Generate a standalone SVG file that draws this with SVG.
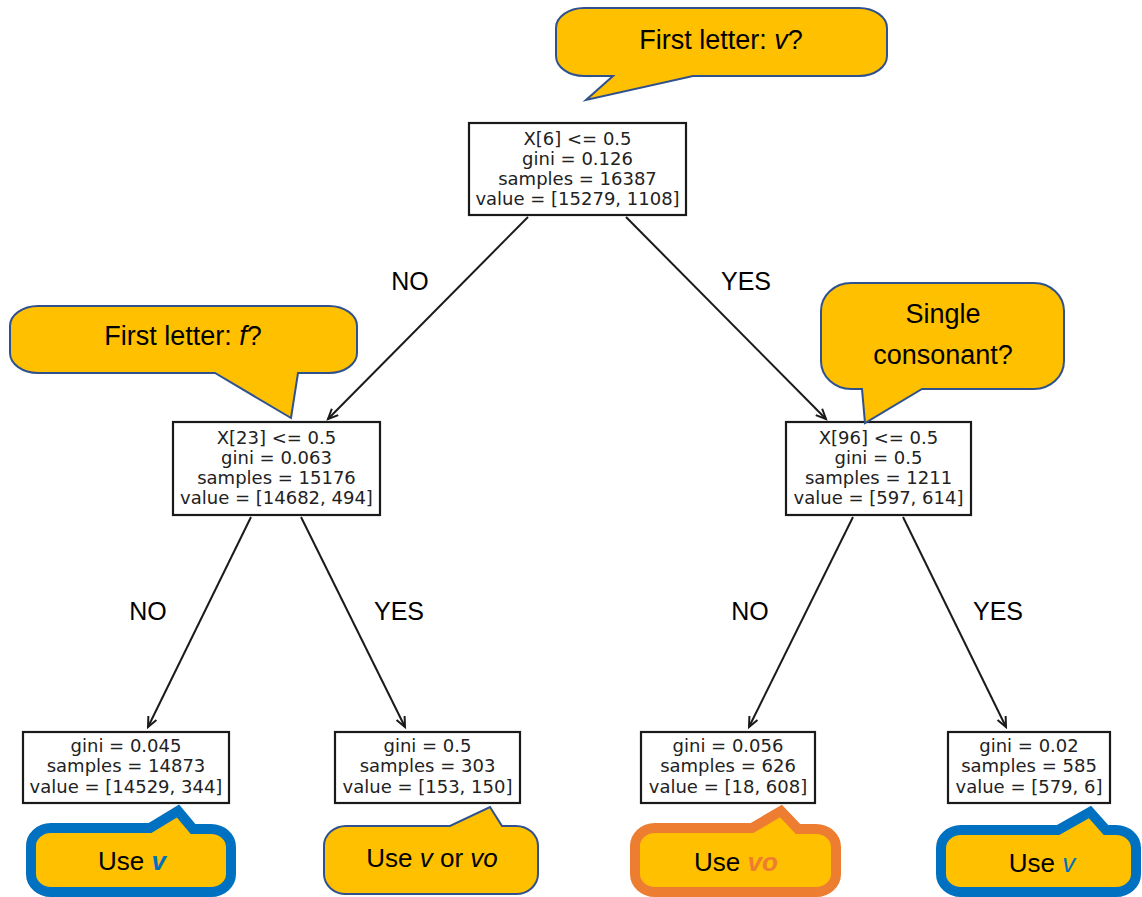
<svg xmlns="http://www.w3.org/2000/svg" width="1142" height="897" viewBox="0 0 1142 897">
<style>
.box{fill:#fff;stroke:#1a1a1a;stroke-width:2.2}
.nt{font-family:"DejaVu Sans",sans-serif;font-size:18px;fill:#222;text-anchor:middle}
.edge{stroke:#1a1a1a;stroke-width:2;fill:none}
.el{font-family:"Liberation Sans",Arial,sans-serif;font-size:25px;fill:#000;text-anchor:middle}
.co{fill:#FFC000;stroke:#2F528F;stroke-width:2;stroke-linejoin:miter}
.coB{fill:#FFC000;stroke:#0070C0;stroke-width:10;stroke-linejoin:miter}
.coO{fill:#FFC000;stroke:#ED7D31;stroke-width:10;stroke-linejoin:miter}
.ct{font-family:"Liberation Sans",Arial,sans-serif;font-size:27px;fill:#000;text-anchor:middle}
.cb{font-family:"Liberation Sans",Arial,sans-serif;font-size:26px;fill:#000;text-anchor:middle}
.it{font-style:italic}
</style>
<defs>
<marker id="arr" markerWidth="14" markerHeight="12" refX="11" refY="6" orient="auto" markerUnits="userSpaceOnUse">
<path d="M1,1.5 L11,6 L1,10.5" fill="none" stroke="#1a1a1a" stroke-width="2"/>
</marker>
</defs>
<rect width="1142" height="897" fill="#fff"/>

<g id="connectors">
<line class="edge" x1="528" y1="217" x2="328" y2="419" marker-end="url(#arr)"/>
<line class="edge" x1="626" y1="217" x2="826" y2="419" marker-end="url(#arr)"/>
<line class="edge" x1="251" y1="517" x2="148" y2="727" marker-end="url(#arr)"/>
<line class="edge" x1="301" y1="517" x2="405" y2="727" marker-end="url(#arr)"/>
<line class="edge" x1="853" y1="517" x2="749" y2="727" marker-end="url(#arr)"/>
<line class="edge" x1="903" y1="517" x2="1006" y2="727" marker-end="url(#arr)"/>
<text class="el" x="410" y="290">NO</text>
<text class="el" x="746" y="290">YES</text>
<text class="el" x="148" y="620">NO</text>
<text class="el" x="399" y="620">YES</text>
<text class="el" x="750" y="620">NO</text>
<text class="el" x="998" y="620">YES</text>
</g>

<g id="root">
<rect class="box" x="469" y="123" width="217" height="92"/>
<text class="nt" x="577.5" y="145">X[6] &lt;= 0.5</text>
<text class="nt" x="577.5" y="165">gini = 0.126</text>
<text class="nt" x="577.5" y="185">samples = 16387</text>
<text class="nt" x="577.5" y="205">value = [15279, 1108]</text>
</g>

<g id="node-left">
<rect class="box" x="173" y="422" width="207" height="93"/>
<text class="nt" x="276.5" y="444">X[23] &lt;= 0.5</text>
<text class="nt" x="276.5" y="464">gini = 0.063</text>
<text class="nt" x="276.5" y="484">samples = 15176</text>
<text class="nt" x="276.5" y="504">value = [14682, 494]</text>
</g>

<g id="node-right">
<rect class="box" x="786" y="422" width="185" height="93"/>
<text class="nt" x="878.5" y="444">X[96] &lt;= 0.5</text>
<text class="nt" x="878.5" y="464">gini = 0.5</text>
<text class="nt" x="878.5" y="484">samples = 1211</text>
<text class="nt" x="878.5" y="504">value = [597, 614]</text>
</g>

<g id="leaf1">
<rect class="box" x="23" y="732" width="206" height="71"/>
<text class="nt" x="126" y="752">gini = 0.045</text>
<text class="nt" x="126" y="772">samples = 14873</text>
<text class="nt" x="126" y="793">value = [14529, 344]</text>
</g>

<g id="leaf2">
<rect class="box" x="335" y="732" width="185" height="71"/>
<text class="nt" x="427.5" y="752">gini = 0.5</text>
<text class="nt" x="427.5" y="772">samples = 303</text>
<text class="nt" x="427.5" y="793">value = [153, 150]</text>
</g>

<g id="leaf3">
<rect class="box" x="641" y="732" width="174" height="71"/>
<text class="nt" x="728" y="752">gini = 0.056</text>
<text class="nt" x="728" y="772">samples = 626</text>
<text class="nt" x="728" y="793">value = [18, 608]</text>
</g>

<g id="leaf4">
<rect class="box" x="948" y="732" width="162" height="71"/>
<text class="nt" x="1029" y="752">gini = 0.02</text>
<text class="nt" x="1029" y="772">samples = 585</text>
<text class="nt" x="1029" y="793">value = [579, 6]</text>
</g>

<g id="callout-top">
<path class="co" d="M584,8 H859 A28,20 0 0 1 887,28 V56 A28,20 0 0 1 859,76 H693 L586,100 L613,76 H584 A28,20 0 0 1 556,56 V28 A28,20 0 0 1 584,8 Z"/>
<text class="ct" x="721" y="49">First letter: <tspan class="it">v</tspan>?</text>
</g>

<g id="callout-left">
<path class="co" d="M38,306 H329 A28,20 0 0 1 357,326 V353 A28,20 0 0 1 329,373 H298 L291,418 L215,373 H38 A28,20 0 0 1 10,353 V326 A28,20 0 0 1 38,306 Z"/>
<text class="ct" x="183" y="345">First letter: <tspan class="it">f</tspan>?</text>
</g>

<g id="callout-right">
<path class="co" d="M851,283 H1034 A30,28 0 0 1 1064,311 V361 A30,28 0 0 1 1034,389 H922 L865,423 L862,389 H851 A30,28 0 0 1 821,361 V311 A30,28 0 0 1 851,283 Z"/>
<text class="ct" x="943" y="323">Single</text>
<text class="ct" x="943" y="364">consonant?</text>
</g>

<g id="callout-leaf1">
<path class="coB" d="M51,828 H150 L178,811 L193,829 H211 A20,18 0 0 1 231,847 V874 A20,18 0 0 1 211,892 H51 A20,18 0 0 1 31,874 V847 A20,18 0 0 1 51,828 Z"/>
<text class="cb" x="132" y="870">Use <tspan class="it" font-weight="bold" fill="#0070C0">v</tspan></text>
</g>

<g id="callout-leaf2">
<path class="co" d="M346,826 H450 L490,807 L502,826 H516 A22,20 0 0 1 538,846 V874 A22,20 0 0 1 516,894 H346 A22,20 0 0 1 324,874 V846 A22,20 0 0 1 346,826 Z"/>
<text class="cb" x="432" y="867">Use <tspan class="it">v</tspan> or <tspan class="it">vo</tspan></text>
</g>

<g id="callout-leaf3">
<path class="coO" d="M655,828 H752 L781,811 L798,829 H816 A20,18 0 0 1 836,847 V874 A20,18 0 0 1 816,892 H655 A20,18 0 0 1 635,874 V847 A20,18 0 0 1 655,828 Z"/>
<text class="cb" x="736" y="871">Use <tspan class="it" font-weight="bold" fill="#ED7D31">vo</tspan></text>
</g>

<g id="callout-leaf4">
<path class="coB" d="M961,830 H1058 L1090,812 L1106,830 H1116 A20,18 0 0 1 1136,848 V874 A20,18 0 0 1 1116,892 H961 A20,18 0 0 1 941,874 V848 A20,18 0 0 1 961,830 Z"/>
<text class="cb" x="1042" y="872">Use <tspan class="it" fill="#0070C0">v</tspan></text>
</g>
</svg>
